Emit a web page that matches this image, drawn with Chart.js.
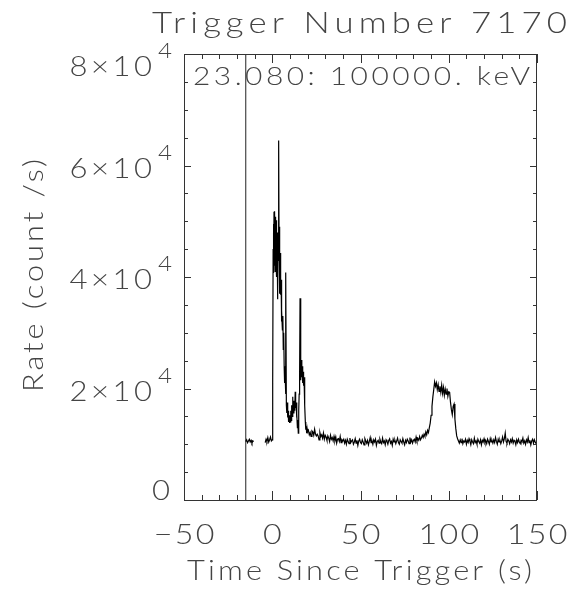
<!DOCTYPE html>
<html>
<head>
<meta charset="utf-8">
<script src="https://cdn.jsdelivr.net/npm/chart.js@4"></script>
<style>
  html, body { margin: 0; padding: 0; background: #fff; }
  canvas { display: block; }
</style>
</head>
<body>
<canvas id="lc" width="571" height="591"></canvas>
<script>
// Light curve, trigger 7170, 23 keV - 100 MeV
const TITLE = 'Trigger Number 7170';
const ENERGY = '23.080: 100000. keV';
const X_TITLE = 'Time Since Trigger (s)';
const Y_TITLE = 'Rate (count /s)';

const xTicks = [-50, 0, 50, 100, 150];
const xTickLabels = ['\u221250', '0', '50', '100', '150'];
const yTicks = [0, 20000, 40000, 60000, 80000];
const yTickLabels = ['0', '2\u00d710', '4\u00d710', '6\u00d710', '8\u00d710'];
const yTickExps = ['', '4', '4', '4', '4'];

const triggerLineX = -15;

// time (s) / rate (count/s); null marks the gap in the pre-trigger data
const times = [
  -15, -14.5, -14, -13.5, -13, -12.5, -12, -11.5, -11, -10.5, -10,
  -4, -3.5, -3, -2.5, -2, -1.5, -1, -0.5,
  0, 0.25,
  0.5, 0.625, 0.75, 0.875, 1, 1.125, 1.25, 1.375, 1.5, 1.625, 1.75, 1.875,
  2, 2.125, 2.25, 2.375, 2.5, 2.625, 2.75, 2.875, 3, 3.125, 3.25, 3.375,
  3.5, 3.625, 3.75, 3.875, 4, 4.125, 4.25, 4.375, 4.5, 4.625, 4.75, 4.875,
  5, 5.125, 5.25, 5.5, 5.75,
  6, 6.25, 6.5, 6.75, 7, 7.25, 7.5, 7.75, 8, 8.25, 8.5, 8.75,
  9, 9.25, 9.5, 9.75, 10, 10.25, 10.5, 10.75, 11, 11.25, 11.5, 11.75,
  12, 12.25, 12.5, 12.75, 13, 13.25, 13.5, 13.75, 14, 14.25, 14.5, 14.75,
  15, 15.25, 15.5, 15.75, 16, 16.25, 16.5, 16.75, 17, 17.25, 17.5, 17.75,
  18, 18.25, 18.5, 18.75, 19, 19.25, 19.5, 19.75, 20,
  20.5, 21, 21.5, 22, 22.5, 23, 23.5, 24, 24.5, 25,
  25.5, 26, 26.5, 27, 27.5, 28, 28.5, 29, 29.5, 30,
  30.5, 31, 31.5, 32, 32.5, 33, 33.5, 34, 34.5, 35,
  35.5, 36, 36.5, 37, 37.5, 38, 38.5, 39, 39.5, 40,
  40.5, 41, 41.5, 42, 42.5, 43, 43.5, 44, 44.5, 45,
  45.5, 46, 46.5, 47, 47.5, 48, 48.5, 49, 49.5, 50,
  50.5, 51, 51.5, 52, 52.5, 53, 53.5, 54, 54.5, 55,
  55.5, 56, 56.5, 57, 57.5, 58, 58.5, 59, 59.5, 60,
  60.5, 61, 61.5, 62, 62.5, 63, 63.5, 64, 64.5, 65,
  65.5, 66, 66.5, 67, 67.5, 68, 68.5, 69, 69.5, 70,
  70.5, 71, 71.5, 72, 72.5, 73, 73.5, 74, 74.5, 75,
  75.5, 76, 76.5, 77, 77.5, 78, 78.5, 79, 79.5, 80,
  80.5, 81, 81.5, 82, 82.5, 83, 83.5, 84, 84.5, 85,
  85.5, 86, 86.5, 87, 87.5, 88, 88.5, 89, 89.5, 90,
  90.5, 91, 91.5, 92, 92.5, 93, 93.5, 94, 94.5, 95,
  95.5, 96, 96.5, 97, 97.5, 98, 98.5, 99, 99.5, 100,
  100.5, 101, 101.5, 102, 102.5, 103, 103.5, 104, 104.5, 105,
  105.5, 106, 106.5, 107, 107.5, 108, 108.5, 109, 109.5, 110,
  110.5, 111, 111.5, 112, 112.5, 113, 113.5, 114, 114.5, 115,
  115.5, 116, 116.5, 117, 117.5, 118, 118.5, 119, 119.5, 120,
  120.5, 121, 121.5, 122, 122.5, 123, 123.5, 124, 124.5, 125,
  125.5, 126, 126.5, 127, 127.5, 128, 128.5, 129, 129.5, 130,
  130.5, 131, 131.5, 132, 132.5, 133, 133.5, 134, 134.5, 135,
  135.5, 136, 136.5, 137, 137.5, 138, 138.5, 139, 139.5, 140,
  140.5, 141, 141.5, 142, 142.5, 143, 143.5, 144, 144.5, 145,
  145.5, 146, 146.5, 147, 147.5, 148, 148.5, 149, 149.5, 150
];
const rates = [
  10500, 10800, 10300, 10600, 10900, 10400, 10700, 10200, 10600, 10500, null,
  10300, 10900, 10500, 11200, 10400, 10800, 11300, 10600,
  10800, 21000,
  45000, 41500, 49500, 40700, 51700, 43000, 50500, 42000, 51800, 41000, 49800, 44000,
  50800, 42500, 49500, 45000, 50200, 40000, 47000, 36000, 45000, 41000, 48000, 43000,
  52000, 47000, 64500, 44000, 49000, 41000, 46000, 37000, 44300, 38000, 43000, 36800,
  39500, 32000, 39500, 34000, 30500,
  33000, 27000, 30000, 24000, 21000, 23000, 19000, 40800, 17000, 15600, 17500, 14800,
  16000, 14000, 15200, 13800, 14500, 14000, 16000, 14300, 17000, 15000, 18500, 16200,
  17800, 15500, 17000, 16000, 19400, 16500, 17500, 14800, 15500, 13000, 14350, 12000,
  16000, 19000, 22000, 36200, 24000, 21500, 25100, 22000, 24000, 21000, 23000, 20500,
  22000, 19000, 17000, 14000, 12600, 13200, 12000, 12800, 12200,
  12500, 11700, 12100, 11400, 12400, 12200, 11600, 12700, 11800, 11500,
  11800, 11500, 10800, 12100, 11400, 11700, 11100, 12000, 10900, 11600,
  11300, 10700, 11500, 11100, 10500, 11600, 10900, 11200, 10600, 11400,
  10600, 11300, 10200, 10900, 11000, 10500, 11400, 10300, 10800, 10600,
  10900, 10200, 10700, 10000, 10900, 10500, 10100, 11100, 10300, 10600,
  10800, 10000, 10400, 11000, 10200, 10700, 9800, 10600, 10900, 10300,
  10100, 10800, 10400, 9900, 11000, 10600, 10200, 10700, 9900, 10500,
  11200, 10300, 10600, 10000, 10800, 10400, 10900, 9800, 10500, 10700,
  10200, 10900, 10400, 10100, 11100, 10300, 10600, 9900, 10800, 10500,
  10000, 10700, 11000, 10200, 10500, 9800, 10900, 10400, 10700, 10100,
  10600, 11100, 10300, 10000, 10800, 10500, 10200, 11000, 10400, 9900,
  10700, 10300, 10900, 10600, 10100, 11200, 10400, 10800, 10200, 10700,
  10900, 10400, 11300, 10600, 11000, 10700, 11400, 10800, 11100, 11600,
  11200, 11800, 11400, 12200, 11700, 12500, 12100, 13000, 13800, 15200,
  16800, 18500, 19800, 21200, 20400, 21000, 19800, 20700, 19500, 20400,
  19300, 20600, 19100, 20200, 18800, 19900, 19000, 20000, 18600, 19400,
  19300, 17500, 16200, 15300, 16800, 17200, 14500, 12800, 11500, 11000,
  10600, 10200, 10800, 10300, 11000, 10100, 10600, 10400, 10900, 10000,
  10700, 10300, 11000, 10500, 9900, 10800, 10400, 10100, 11100, 10300,
  10600, 10000, 10900, 10500, 10200, 10800, 9900, 10700, 10400, 11000,
  10300, 10600, 10100, 10900, 10500, 10000, 11000, 10400, 10700, 10200,
  10800, 10300, 11200, 10500, 10000, 10900, 10400, 10700, 10100, 10600,
  11300, 10400, 11000, 12000, 10500, 10200, 10900, 10600, 10100, 10800,
  10400, 11000, 10200, 10700, 10500, 9900, 10800, 10300, 10900, 10400,
  10100, 10700, 10500, 11100, 10200, 10600, 10000, 10800, 10400, 11200,
  10300, 10700, 9900, 10600, 10900, 10200, 10800, 10400, 10100, 10600
];

const curve = times.map((t, i) => ({ x: t, y: rates[i] }));
const triggerLine = [{ x: triggerLineX, y: 0 }, { x: triggerLineX, y: 80000 }];

const FONT = 'Lato, "DejaVu Sans", sans-serif';
const W = '300 ';
const INK = '#444';

// draw text at a given width: widened glyphs plus letter spacing for the rest
function spaced(ctx, str, x, y, width, sx = 1.2) {
  ctx.save();
  ctx.translate(x, y);
  ctx.scale(sx, 1);
  ctx.letterSpacing = '0px';
  const w0 = ctx.measureText(str).width * sx;
  const ls = (width - w0) / Math.max(1, str.length - 1) / sx;
  ctx.letterSpacing = ls + 'px';
  ctx.textAlign = 'left';
  ctx.fillText(str, 0, 0);
  ctx.restore();
}

// widened text anchored on its centre or right edge
function wide(ctx, str, x, y, align, sx = 1.2, ls = 1) {
  ctx.save();
  ctx.letterSpacing = ls + 'px';
  const w = (ctx.measureText(str).width - ls) * sx;
  const left = align === 'center' ? x - w / 2 : align === 'right' ? x - w : x;
  ctx.translate(left, y);
  ctx.scale(sx, 1);
  ctx.textAlign = 'left';
  ctx.fillText(str, 0, 0);
  ctx.restore();
  return w;
}

const framePlugin = {
  id: 'frame',
  afterDraw(chart) {
    const { ctx, chartArea: a, scales: { x, y } } = chart;
    ctx.save();
    ctx.strokeStyle = '#333';
    ctx.lineWidth = 1;
    ctx.strokeRect(a.left + 0.5, a.top + 0.5, a.right - a.left - 1, a.bottom - a.top);

    // x ticks, top and bottom, inward
    ctx.beginPath();
    for (let v = x.min; v <= x.max; v += 10) {
      const px = Math.round(x.getPixelForValue(v)) + 0.5;
      const len = v % 50 === 0 ? 9 : 5;
      ctx.moveTo(px, a.bottom); ctx.lineTo(px, a.bottom - len);
      ctx.moveTo(px, a.top); ctx.lineTo(px, a.top + len);
    }
    // y ticks, left and right, inward
    for (let v = y.min; v <= y.max; v += 5000) {
      const py = Math.round(y.getPixelForValue(v)) + 0.5;
      const len = v % 20000 === 0 ? 7 : 4;
      ctx.moveTo(a.left, py); ctx.lineTo(a.left + len, py);
      ctx.moveTo(a.right, py); ctx.lineTo(a.right - len, py);
    }
    ctx.stroke();

    ctx.fillStyle = INK;
    ctx.textBaseline = 'alphabetic';

    // x tick labels
    ctx.font = W + '28px ' + FONT;
    xTicks.forEach((v, i) => {
      wide(ctx, xTickLabels[i], x.getPixelForValue(v), a.bottom + 44, 'center', 1.15, 2);
    });

    // y tick labels with exponents
    yTicks.forEach((v, i) => {
      const ty = y.getPixelForValue(v);
      const base = Math.min(Math.max(ty + 12, a.top + 22), a.bottom);
      const exp = yTickExps[i];
      let right = a.left - 12;
      if (exp) {
        ctx.font = W + '21px ' + FONT;
        const ew = wide(ctx, exp, right, base - 18, 'right', 1.15, 0);
        right -= ew + 6;
      } else {
        right -= 2;
      }
      ctx.font = W + '27px ' + FONT;
      wide(ctx, yTickLabels[i], right, base, 'right', 1.15, 3);
    });

    // titles
    ctx.font = W + '29px ' + FONT;
    spaced(ctx, TITLE, 152, 33, 415, 1.2);
    ctx.font = W + '26px ' + FONT;
    spaced(ctx, ENERGY, 193, 85, 337, 1.15);
    ctx.font = W + '28px ' + FONT;
    spaced(ctx, X_TITLE, 187, 580, 345, 1.1);

    ctx.save();
    ctx.translate(43, 392);
    ctx.rotate(-Math.PI / 2);
    ctx.font = W + '28px ' + FONT;
    spaced(ctx, Y_TITLE, 0, 0, 233, 1.1);
    ctx.restore();

    ctx.restore();
  }
};

new Chart(document.getElementById('lc'), {
  type: 'scatter',
  data: {
    datasets: [
      {
        data: curve,
        showLine: true,
        spanGaps: false,
        borderColor: '#000',
        borderWidth: 1.2,
        pointRadius: 0,
        tension: 0
      },
      {
        data: triggerLine,
        showLine: true,
        borderColor: '#222',
        borderWidth: 1,
        pointRadius: 0
      }
    ]
  },
  options: {
    responsive: false,
    animation: false,
    devicePixelRatio: 1,
    layout: { padding: { left: 184, top: 54, right: 34, bottom: 91 } },
    plugins: { legend: { display: false }, tooltip: { enabled: false } },
    scales: {
      x: { type: 'linear', min: -50, max: 150, display: false },
      y: { type: 'linear', min: 0, max: 80000, display: false }
    }
  },
  plugins: [framePlugin]
});
</script>
</body>
</html>
